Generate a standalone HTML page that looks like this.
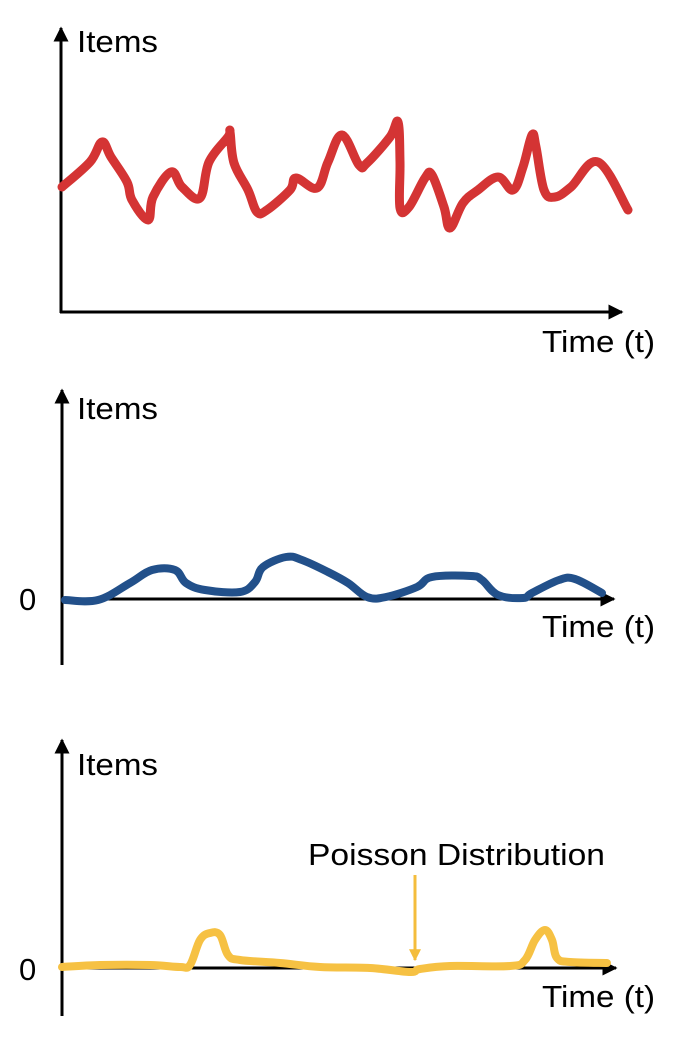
<!DOCTYPE html>
<html><head><meta charset="utf-8">
<style>
html,body{margin:0;padding:0;background:#fff;}
svg{display:block;}
text{font-family:"Liberation Sans",sans-serif;font-size:31px;fill:#000;}
</style></head>
<body>
<svg id="chart" width="678" height="1052" viewBox="0 0 678 1052" xmlns="http://www.w3.org/2000/svg">
<defs>
<marker id="ah" viewBox="0 0 10 10" refX="9" refY="5" markerWidth="5" markerHeight="5" orient="auto"><path d="M0,0 L10,5 L0,10 z" fill="#000"/></marker>
<marker id="ahy" viewBox="0 0 10 10" refX="9" refY="5" markerWidth="4" markerHeight="4" orient="auto"><path d="M0,0 L10,5 L0,10 z" fill="#f4bd3c"/></marker>
</defs>
<g>
<line x1="61" y1="313" x2="61" y2="28" stroke="#000" stroke-width="3" marker-end="url(#ah)"/>
<line x1="60" y1="312" x2="622" y2="312" stroke="#000" stroke-width="3" marker-end="url(#ah)"/>
<text x="77" y="52" textLength="81" lengthAdjust="spacingAndGlyphs">Items</text>
<text x="542" y="352" textLength="113" lengthAdjust="spacingAndGlyphs">Time (t)</text>
<path id="red" fill="none" stroke="#d43434" stroke-width="9" stroke-linecap="round" stroke-linejoin="round"/>
</g>
<g>
<line x1="62" y1="665" x2="62" y2="390" stroke="#000" stroke-width="3" marker-end="url(#ah)"/>
<line x1="62" y1="599" x2="614" y2="599" stroke="#000" stroke-width="3" marker-end="url(#ah)"/>
<text x="77" y="419" textLength="81" lengthAdjust="spacingAndGlyphs">Items</text>
<text x="19" y="610">0</text>
<text x="542" y="637" textLength="113" lengthAdjust="spacingAndGlyphs">Time (t)</text>
<path id="blue" fill="none" stroke="#22508a" stroke-width="8" stroke-linecap="round" stroke-linejoin="round"/>
</g>
<g>
<line x1="62" y1="1016" x2="62" y2="740" stroke="#000" stroke-width="3" marker-end="url(#ah)"/>
<line x1="62" y1="968" x2="616" y2="968" stroke="#000" stroke-width="3" marker-end="url(#ah)"/>
<text x="77" y="775" textLength="81" lengthAdjust="spacingAndGlyphs">Items</text>
<text x="19" y="980">0</text>
<text x="542" y="1007" textLength="113" lengthAdjust="spacingAndGlyphs">Time (t)</text>
<path id="yellow" fill="none" stroke="#f6c143" stroke-width="8" stroke-linecap="round" stroke-linejoin="round"/>
<text x="308" y="865" textLength="297" lengthAdjust="spacingAndGlyphs">Poisson Distribution</text>
<line x1="415" y1="875" x2="415" y2="960" stroke="#f4bd3c" stroke-width="3" marker-end="url(#ahy)"/>
</g>
</svg>
<script>
// Top series (time units, items)
const redT=[2,30,42,51,67,72,88,93,111,122,140,149,168,170,174,188,197,207,230,236,257,268,282,299,307,330,338,340,340,349,365,372,384,390,403,418,438,453,463,472,476,484,495,511,538,568];
const redV=[12.5,15,17,15.5,13,11.2,9.2,11.5,14,12.5,11.4,15,17.5,18,14.9,12.2,10,10.2,12.2,13.4,12.4,15,17.7,14.7,14.9,17.5,19,15,10.4,10.5,13.4,13.7,10.5,8.4,10.9,12.2,13.5,12.2,14.5,17.7,16.5,12.2,11.5,12.5,15,10.2];
// Middle series
const blueT=[3,36,68,90,113,124,143,178,193,201,224,240,266,286,305,324,355,370,409,420,436,461,470,497,513,540];
const blueV=[-0.1,-0.1,1.6,2.9,2.9,1.6,0.9,0.7,1.7,3.2,4.2,3.9,2.7,1.6,0.2,0.2,1.2,2.2,2.3,1.9,0.4,0.1,0.6,1.9,2,0.6];
// Bottom series
const yelT=[0,38,88,118,128,138,148,158,166,178,218,258,308,348,358,388,448,463,473,483,490,495,508,545];
const yelV=[0.1,0.3,0.3,0.1,0.3,2.8,3.5,3.3,1.3,0.8,0.5,0.1,0,-0.4,-0.1,0.2,0.2,0.8,2.8,3.8,2.8,1,0.6,0.5];

function scales(x0,y0){return {x:t=>x0+t, y:v=>y0-v*10};}
const topS=scales(60,312), midS=scales(62,599), botS=scales(62,968);

function smoothPath(T,V,s){
  const p=T.map((t,i)=>[s.x(t),s.y(V[i])]);
  let d='M'+p[0][0]+','+p[0][1];
  for(let i=0;i<p.length-1;i++){
    const a=p[i-1]||p[i], b=p[i], c=p[i+1], e=p[i+2]||c;
    const k=0.18;
    const c1=[b[0]+(c[0]-a[0])*k, b[1]+(c[1]-a[1])*k];
    const c2=[c[0]-(e[0]-b[0])*k, c[1]-(e[1]-b[1])*k];
    d+=' C'+c1.join(',')+' '+c2.join(',')+' '+c.join(',');
  }
  return d;
}
document.getElementById('red').setAttribute('d',smoothPath(redT,redV,topS));
document.getElementById('blue').setAttribute('d',smoothPath(blueT,blueV,midS));
document.getElementById('yellow').setAttribute('d',smoothPath(yelT,yelV,botS));
</script>
</body></html>
